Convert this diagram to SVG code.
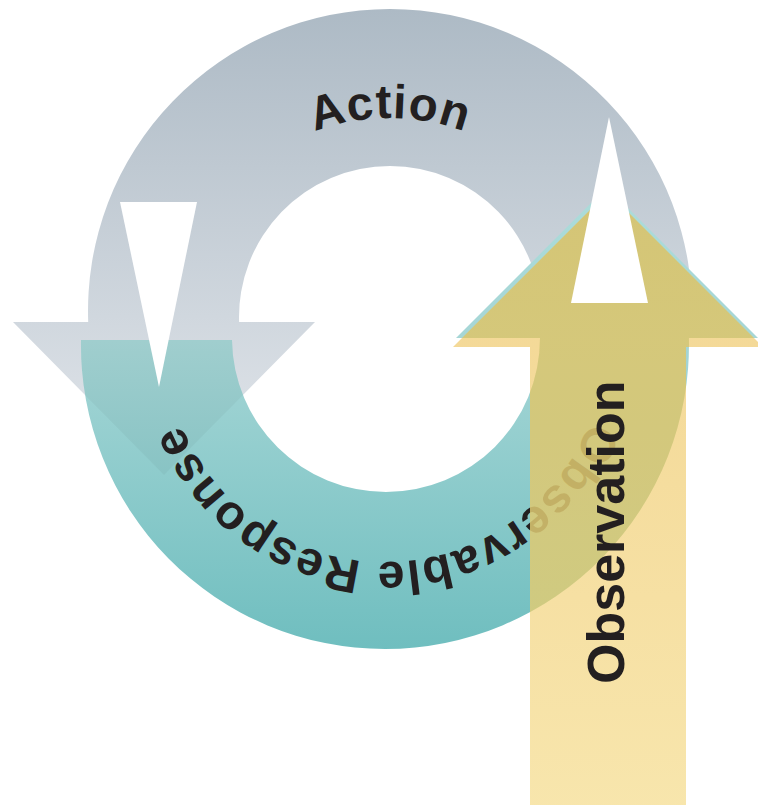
<svg xmlns="http://www.w3.org/2000/svg" width="758" height="805" viewBox="0 0 758 805">
<defs>
<linearGradient id="gGray" gradientUnits="userSpaceOnUse" x1="0" y1="9" x2="0" y2="475">
<stop offset="0" stop-color="#adbac5"/><stop offset="1" stop-color="#e2e6eb"/>
</linearGradient>
<linearGradient id="gTeal" gradientUnits="userSpaceOnUse" x1="0" y1="188" x2="0" y2="650">
<stop offset="0" stop-color="#acdcda"/><stop offset="0.33" stop-color="#a6d6d6"/><stop offset="1" stop-color="#6fbebf"/>
</linearGradient>
<linearGradient id="gOrange" gradientUnits="userSpaceOnUse" x1="0" y1="192" x2="0" y2="805">
<stop offset="0" stop-color="#f0cc79"/><stop offset="1" stop-color="#f6e09a"/>
</linearGradient>
<clipPath id="clipTeal"><path d="M 81 340 A 304 304 0 0 0 385 649 A 304 304 0 0 0 688.9 338 L 758 338 L 607 187 L 456 338 L 540 338 A 154 154 0 0 1 386 492 A 154 154 0 0 1 232 340 Z"/></clipPath>
<path id="pAction" d="M 206.4 224 A 212 212 0 0 1 573.6 224"/>
<path id="pResp" d="M 590.4 420.8 A 220 220 0 0 1 354.4 559.9 A 220 220 0 0 1 165.8 361.2"/>
</defs>
<style>
.lbl{font-family:"Liberation Sans",Arial,Helvetica,sans-serif;font-weight:bold;fill:#231f20}
.notch{fill:#ffffff}
</style>
<g id="action">
<path fill="url(#gGray)" d="M 691.8 322 A 302 302 0 0 0 390 9 A 302 302 0 0 0 88.2 322 L 13 322 L 164 475 L 315 322 L 239.1 322 A 151 151 0 0 1 390 166 A 151 151 0 0 1 540.9 322 Z"/>
<text class="lbl" font-size="47.5" letter-spacing="1"><textPath href="#pAction" startOffset="50%" text-anchor="middle">Action</textPath></text>
</g>
<g id="response">
<path fill="url(#gTeal)" d="M 81 340 A 304 304 0 0 0 385 649 A 304 304 0 0 0 688.9 338 L 758 338 L 607 187 L 456 338 L 540 338 A 154 154 0 0 1 386 492 A 154 154 0 0 1 232 340 Z"/>
<path d="M 13 322 L 164 475 L 315 322 Z" fill="#000000" fill-opacity="0.035" clip-path="url(#clipTeal)"/>
<path class="notch" d="M 120 202 L 197 202 L 159 387 Z"/>
<text class="lbl" font-size="48" letter-spacing="1.2"><textPath href="#pResp">Observable Response</textPath></text>
</g>
<g id="observation">
<path fill="url(#gOrange)" opacity="0.82" d="M 530 810 L 530 347 L 453 347 L 608 192 L 763 347 L 686 347 L 686 810 Z"/>
<path fill="#9da123" fill-opacity="0.2" clip-path="url(#clipTeal)" d="M 530 810 L 530 347 L 453 347 L 608 192 L 763 347 L 686 347 L 686 810 Z"/>
<path class="notch" d="M 609 117 L 648 303 L 571 303 Z"/>
<text class="lbl" font-size="52" transform="translate(624,684) rotate(-90)">Observation</text>
</g>
</svg>
